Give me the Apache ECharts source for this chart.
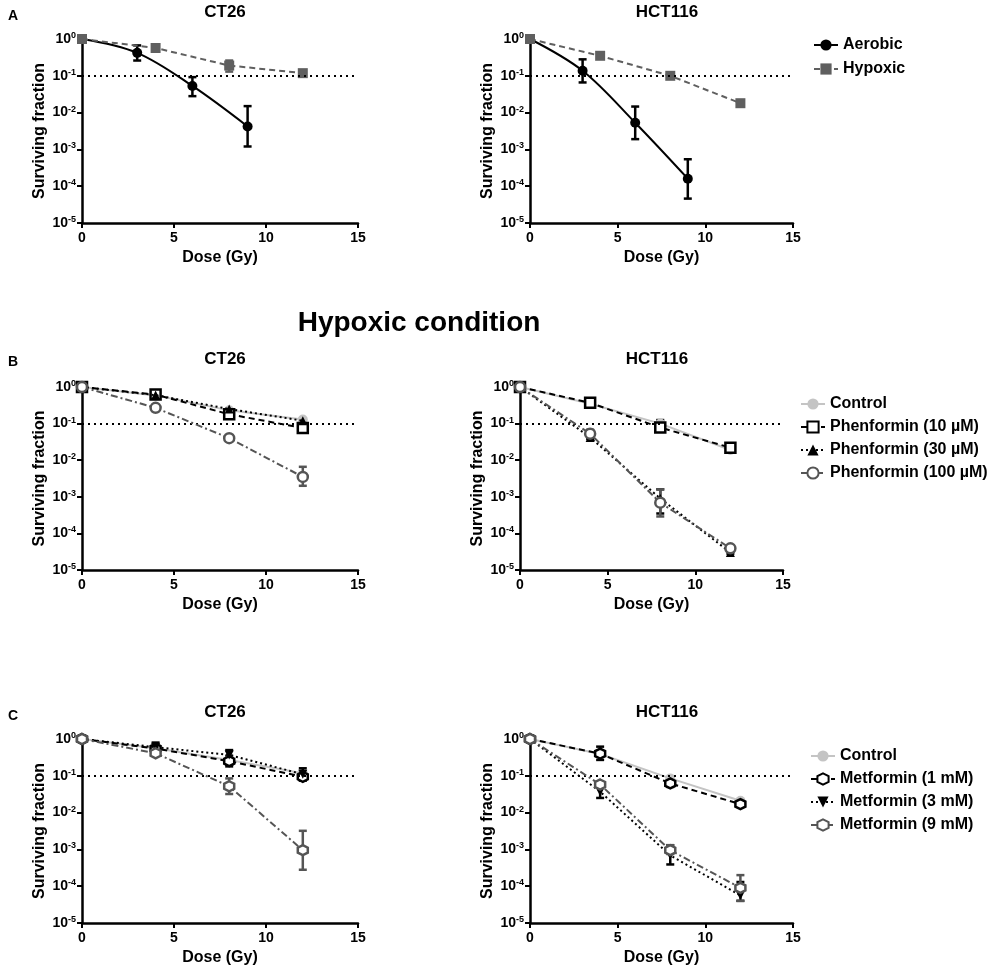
<!DOCTYPE html>
<html>
<head>
<meta charset="utf-8">
<script src="https://cdn.jsdelivr.net/npm/echarts@6/dist/echarts.min.js"></script>
<style>
html,body{margin:0;padding:0;background:#fff;}
#chart{width:1000px;height:968px;}
</style>
</head>
<body>
<div id="chart"></div>
<script>
// ---------- DATA ----------
const DOSE_AEROBIC = [0, 3, 6, 9];
const DOSE = [0, 4, 8, 12];
const X_TICKS = [0, 5, 10, 15];
const Y_TICK_EXPONENTS = [0, -1, -2, -3, -4, -5];
const REFERENCE_LEVEL = 0.1;

// Panel A – CT26
const A_CT26_AEROBIC    = [1, 0.42, 0.053, 0.0042];
const A_CT26_AEROBIC_LO = [null, 0.26, 0.028, 0.0012];
const A_CT26_AEROBIC_HI = [null, 0.67, 0.092, 0.015];
const A_CT26_HYPOXIC    = [1, 0.57, 0.19, 0.118];
const A_CT26_HYPOXIC_LO = [null, 0.52, 0.13, 0.11];
const A_CT26_HYPOXIC_HI = [null, 0.64, 0.26, 0.126];
// Panel A – HCT116
const A_HCT_AEROBIC    = [1, 0.137, 0.0053, 0.00016];
const A_HCT_AEROBIC_LO = [null, 0.066, 0.0019, 0.000046];
const A_HCT_AEROBIC_HI = [null, 0.28, 0.0146, 0.00054];
const A_HCT_HYPOXIC    = [1, 0.35, 0.1, 0.018];

// Panel B – CT26 (hypoxic, phenformin)
const B_CT26_CONTROL = [1, 0.59, 0.23, 0.13];
const B_CT26_P10     = [1, 0.62, 0.18, 0.076];
const B_CT26_P10_LO  = [null, 0.5, 0.15, 0.068];
const B_CT26_P10_HI  = [null, 0.72, 0.22, 0.086];
const B_CT26_P30     = [1, 0.6, 0.25, 0.12];
const B_CT26_P100    = [1, 0.27, 0.04, 0.0035];
const B_CT26_P100_LO = [null, 0.23, 0.034, 0.002];
const B_CT26_P100_HI = [null, 0.32, 0.047, 0.0066];
// Panel B – HCT116
const B_HCT_CONTROL = [1, 0.35, 0.1, 0.019];
const B_HCT_P10     = [1, 0.37, 0.078, 0.022];
const B_HCT_P10_LO  = [null, 0.32, 0.065, 0.02];
const B_HCT_P10_HI  = [null, 0.42, 0.125, 0.025];
const B_HCT_P30     = [1, 0.042, 0.0009, 0.00003];
const B_HCT_P30_LO  = [null, 0.038, 0.00035, 0.000028];
const B_HCT_P30_HI  = [null, 0.048, 0.0016, 0.000033];
const B_HCT_P100    = [1, 0.053, 0.00069, 0.000039];
const B_HCT_P100_LO = [null, 0.045, 0.00029, 0.000036];
const B_HCT_P100_HI = [null, 0.068, 0.0016, 0.000043];

// Panel C – CT26 (hypoxic, metformin)
const C_CT26_CONTROL = [1, 0.56, 0.27, 0.117];
const C_CT26_M1      = [1, 0.55, 0.25, 0.094];
const C_CT26_M1_LO   = [null, 0.48, 0.18, 0.075];
const C_CT26_M1_HI   = [null, 0.62, 0.35, 0.12];
const C_CT26_M3      = [1, 0.6, 0.37, 0.11];
const C_CT26_M3_LO   = [null, 0.45, 0.2, 0.075];
const C_CT26_M3_HI   = [null, 0.8, 0.5, 0.16];
const C_CT26_M9      = [1, 0.41, 0.052, 0.00095];
const C_CT26_M9_LO   = [null, 0.35, 0.032, 0.00028];
const C_CT26_M9_HI   = [null, 0.48, 0.085, 0.0032];
// Panel C – HCT116
const C_HCT_CONTROL = [1, 0.39, 0.085, 0.021];
const C_HCT_M1      = [1, 0.4, 0.062, 0.017];
const C_HCT_M1_LO   = [null, 0.27, 0.05, 0.015];
const C_HCT_M1_HI   = [null, 0.62, 0.075, 0.019];
const C_HCT_M3      = [1, 0.037, 0.00069, 0.000056];
const C_HCT_M3_LO   = [null, 0.025, 0.00039, 0.00004];
const C_HCT_M3_HI   = [null, 0.05, 0.0013, 0.00013];
const C_HCT_M9      = [1, 0.058, 0.00095, 0.00009];
const C_HCT_M9_LO   = [null, 0.05, 0.00075, 0.00004];
const C_HCT_M9_HI   = [null, 0.068, 0.0013, 0.0002];

// ---------- STYLES ----------
const FONT = "'Liberation Sans', Arial, sans-serif";
const HEX = 'path://M50,0 L93,25 L93,75 L50,100 L7,75 L7,25 Z';
const DASH = [6, 4], DOT = [2, 3], DASHDOT = [7, 3, 2, 3];
const STYLES = {
  'Aerobic':             {color: '#000', fill: '#000', symbol: 'circle', size: 10, dash: 'solid', width: 2},
  'Hypoxic':             {color: '#5f5f5f', fill: '#5f5f5f', symbol: 'rect', size: 10, dash: DASH, width: 2},
  'Control':             {color: '#c4c4c4', fill: '#c4c4c4', symbol: 'circle', size: 10, dash: 'solid', width: 2},
  'Phenformin (10 µM)':  {color: '#000', fill: '#fff', symbol: 'rect', size: 10, dash: DASH, width: 2, border: 2.5},
  'Phenformin (30 µM)':  {color: '#000', fill: '#000', symbol: 'triangle', size: 9, dash: DOT, width: 2},
  'Phenformin (100 µM)': {color: '#555', fill: '#fff', symbol: 'circle', size: 10, dash: DASHDOT, width: 2, border: 2.5},
  'Metformin (1 mM)':    {color: '#000', fill: '#fff', symbol: HEX, size: 10, dash: DASH, width: 2, border: 2.5},
  'Metformin (3 mM)':    {color: '#000', fill: '#000', symbol: 'triangle', rotate: 180, size: 9, dash: DOT, width: 2},
  'Metformin (9 mM)':    {color: '#555', fill: '#fff', symbol: HEX, size: 10, dash: DASHDOT, width: 2, border: 2.5}
};

// ---------- LAYOUT ----------
const GRIDS = [
  {left: 82,  top: 39,  width: 276, height: 184, title: 'CT26',   tx: 220, ty: -1},
  {left: 530, top: 39,  width: 263, height: 184, title: 'HCT116', tx: 662, ty: -1},
  {left: 82,  top: 387, width: 276, height: 183, title: 'CT26',   tx: 220, ty: 346},
  {left: 520, top: 387, width: 263, height: 183, title: 'HCT116', tx: 652, ty: 346},
  {left: 82,  top: 739, width: 276, height: 184, title: 'CT26',   tx: 220, ty: 699},
  {left: 530, top: 739, width: 263, height: 184, title: 'HCT116', tx: 662, ty: 699}
];

// panel -> list of [seriesName, doses, values, lo, hi, smooth]
const PANELS = [
  [['Aerobic', DOSE_AEROBIC, A_CT26_AEROBIC, A_CT26_AEROBIC_LO, A_CT26_AEROBIC_HI, true],
   ['Hypoxic', DOSE, A_CT26_HYPOXIC, A_CT26_HYPOXIC_LO, A_CT26_HYPOXIC_HI]],
  [['Aerobic', DOSE_AEROBIC, A_HCT_AEROBIC, A_HCT_AEROBIC_LO, A_HCT_AEROBIC_HI, true],
   ['Hypoxic', DOSE, A_HCT_HYPOXIC, null, null]],
  [['Control', DOSE, B_CT26_CONTROL],
   ['Phenformin (10 µM)', DOSE, B_CT26_P10, B_CT26_P10_LO, B_CT26_P10_HI],
   ['Phenformin (30 µM)', DOSE, B_CT26_P30],
   ['Phenformin (100 µM)', DOSE, B_CT26_P100, B_CT26_P100_LO, B_CT26_P100_HI]],
  [['Control', DOSE, B_HCT_CONTROL],
   ['Phenformin (10 µM)', DOSE, B_HCT_P10, B_HCT_P10_LO, B_HCT_P10_HI],
   ['Phenformin (30 µM)', DOSE, B_HCT_P30, B_HCT_P30_LO, B_HCT_P30_HI],
   ['Phenformin (100 µM)', DOSE, B_HCT_P100, B_HCT_P100_LO, B_HCT_P100_HI]],
  [['Control', DOSE, C_CT26_CONTROL],
   ['Metformin (1 mM)', DOSE, C_CT26_M1, C_CT26_M1_LO, C_CT26_M1_HI],
   ['Metformin (3 mM)', DOSE, C_CT26_M3, C_CT26_M3_LO, C_CT26_M3_HI],
   ['Metformin (9 mM)', DOSE, C_CT26_M9, C_CT26_M9_LO, C_CT26_M9_HI]],
  [['Control', DOSE, C_HCT_CONTROL],
   ['Metformin (1 mM)', DOSE, C_HCT_M1, C_HCT_M1_LO, C_HCT_M1_HI],
   ['Metformin (3 mM)', DOSE, C_HCT_M3, C_HCT_M3_LO, C_HCT_M3_HI],
   ['Metformin (9 mM)', DOSE, C_HCT_M9, C_HCT_M9_LO, C_HCT_M9_HI]]
];

// ---------- BUILD ----------
const grid = [], xAxis = [], yAxis = [], series = [], title = [];
const axisLine = {show: true, onZero: false, lineStyle: {color: '#000', width: 2.5}};
const axisTick = {show: true, inside: false, length: 5, lineStyle: {color: '#000', width: 2}};

GRIDS.forEach((g, i) => {
  grid.push({left: g.left, top: g.top, width: g.width, height: g.height, containLabel: false});
  title.push({text: g.title, left: g.tx, top: g.ty, textAlign: 'center',
    textStyle: {fontFamily: FONT, fontSize: 17, fontWeight: 'bold', color: '#000'}});
  xAxis.push({
    gridIndex: i, type: 'value', min: X_TICKS[0], max: X_TICKS[X_TICKS.length - 1], interval: 5,
    name: 'Dose (Gy)', nameLocation: 'middle', nameGap: 27,
    nameTextStyle: {fontFamily: FONT, fontSize: 16, fontWeight: 'bold', color: '#000'},
    axisLine, axisTick, splitLine: {show: false},
    axisLabel: {fontFamily: FONT, fontSize: 14, fontWeight: 'bold', color: '#000', margin: 8}
  });
  yAxis.push({
    gridIndex: i, type: 'log', logBase: 10,
    min: Math.pow(10, Y_TICK_EXPONENTS[Y_TICK_EXPONENTS.length - 1]),
    max: Math.pow(10, Y_TICK_EXPONENTS[0]),
    name: 'Surviving fraction', nameLocation: 'middle', nameGap: 34,
    nameTextStyle: {fontFamily: FONT, fontSize: 16, fontWeight: 'bold', color: '#000'},
    axisLine, axisTick, splitLine: {show: false},
    axisLabel: {
      margin: 6,
      formatter: v => '{b|10}{s|' + Math.round(Math.log10(v)) + '}',
      rich: {
        b: {fontFamily: FONT, fontSize: 14, fontWeight: 'bold', color: '#000', lineHeight: 16},
        s: {fontFamily: FONT, fontSize: 9, fontWeight: 'bold', color: '#000', verticalAlign: 'top', lineHeight: 10}
      }
    }
  });

  PANELS[i].forEach((def, k) => {
    const [name, xs, ys, lo, hi, smooth] = def;
    const st = STYLES[name];
    const s = {
      name, type: 'line', xAxisIndex: i, yAxisIndex: i,
      data: xs.map((x, j) => [x, ys[j]]),
      smooth: smooth ? 0.35 : false,
      symbol: st.symbol, symbolSize: st.size, symbolRotate: st.rotate || 0,
      showAllSymbol: true,
      lineStyle: {color: st.color, width: st.width, type: st.dash},
      itemStyle: {color: st.fill, borderColor: st.color, borderWidth: st.border || 0},
      z: 3 + k, animation: false
    };
    if (k === 0) {
      s.markLine = {
        silent: true, symbol: 'none', label: {show: false}, animation: false,
        lineStyle: {color: '#000', width: 2, type: [2, 4]},
        data: [{yAxis: REFERENCE_LEVEL}]
      };
    }
    series.push(s);
    if (lo && hi) {
      const errData = [];
      xs.forEach((x, j) => { if (lo[j] != null && hi[j] != null) errData.push([x, lo[j], hi[j]]); });
      series.push({
        name: 'err-' + i + '-' + k, type: 'custom', xAxisIndex: i, yAxisIndex: i,
        data: errData, z: 2 + k, animation: false, silent: true,
        encode: {x: 0, y: [1, 2]},
        renderItem: (params, api) => {
          const p1 = api.coord([api.value(0), api.value(1)]);
          const p2 = api.coord([api.value(0), api.value(2)]);
          const w = 4;
          const style = {stroke: st.color, lineWidth: 2.5};
          return {type: 'group', children: [
            {type: 'line', shape: {x1: p1[0], y1: p1[1], x2: p2[0], y2: p2[1]}, style},
            {type: 'line', shape: {x1: p1[0] - w, y1: p1[1], x2: p1[0] + w, y2: p1[1]}, style},
            {type: 'line', shape: {x1: p2[0] - w, y1: p2[1], x2: p2[0] + w, y2: p2[1]}, style}
          ]};
        }
      });
    }
  });
});

// headings
title.push({text: 'Hypoxic condition', left: 414, top: 304, textAlign: 'center',
  textStyle: {fontFamily: FONT, fontSize: 28, fontWeight: 'bold', color: '#000'}});
[['A', 12], ['B', 358], ['C', 712]].forEach(([t, y]) => {
  title.push({text: t, left: 3, top: y - 8,
    textStyle: {fontFamily: FONT, fontSize: 14, fontWeight: 'bold', color: '#000'}});
});

const legendText = {fontFamily: FONT, fontSize: 16, fontWeight: 'bold', color: '#000'};
const legend = [
  {data: ['Aerobic', 'Hypoxic'], left: 808, top: 32, orient: 'vertical',
   itemWidth: 24, itemHeight: 14, itemGap: 8, textStyle: legendText, selectedMode: false},
  {data: ['Control', 'Phenformin (10 µM)', 'Phenformin (30 µM)', 'Phenformin (100 µM)'],
   left: 795, top: 391, orient: 'vertical', itemWidth: 24, itemHeight: 14, itemGap: 7,
   textStyle: legendText, selectedMode: false},
  {data: ['Control', 'Metformin (1 mM)', 'Metformin (3 mM)', 'Metformin (9 mM)'],
   left: 805, top: 743, orient: 'vertical', itemWidth: 24, itemHeight: 14, itemGap: 7,
   textStyle: legendText, selectedMode: false}
];

const chart = echarts.init(document.getElementById('chart'), null, {renderer: 'canvas'});
chart.setOption({
  backgroundColor: '#fff', animation: false,
  title, grid, xAxis, yAxis, series, legend
});
</script>
</body>
</html>
